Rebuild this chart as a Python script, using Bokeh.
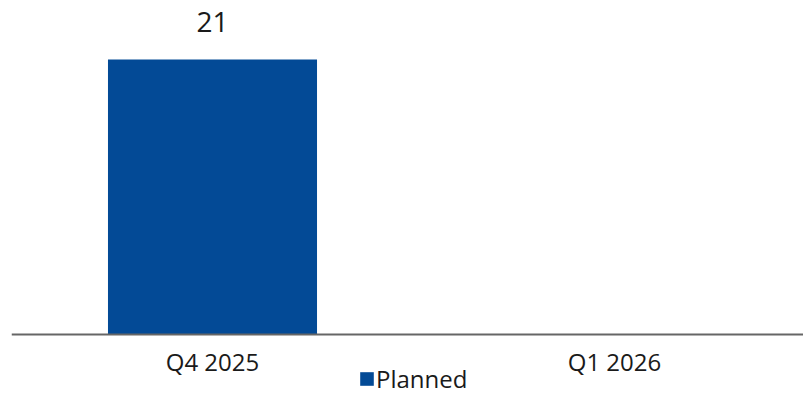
from bokeh.plotting import figure
from bokeh.models import ColumnDataSource, Range1d, FixedTicker, Legend, LegendItem, LinearAxis
from bokeh.core.properties import value
from bokeh.embed import file_html
from bokeh.resources import INLINE

categories = ["Q4 2025", "Q1 2026"]
planned = [21, None]
series_name = "Planned"

xs = [i + 0.5 for i in range(len(categories))]
vals = [v if v is not None else 0 for v in planned]
labels = [str(v) if v is not None else "" for v in planned]
src = ColumnDataSource(dict(x=xs, top=vals, label=labels))

FONT = "Open Sans"
BLUE = "#034a96"
PX_PER_UNIT = 275 / 21  # vertical scale

p = figure(frame_width=792, frame_height=417, output_backend="svg", toolbar_location=None,
           x_range=Range1d(0, 792 / 402),
           y_range=Range1d(-83 / PX_PER_UNIT, 334 / PX_PER_UNIT),
           min_border_left=11, min_border_right=0, min_border_top=0, min_border_bottom=0,
           outline_line_color=None, x_axis_location=None, y_axis_location=None)
p.grid.visible = False

r = p.vbar(x="x", top="top", width=0.52, source=src, color=BLUE, line_color=None)
p.text(x="x", y="top", text="label", source=src, text_align="center",
       text_baseline="alphabetic", y_offset=-38, text_font=value(FONT),
       text_font_size="28px", text_color="#1a1a1a")

ax = LinearAxis(fixed_location=0)
ax.ticker = FixedTicker(ticks=xs)
ax.major_label_overrides = {x: c for x, c in zip(xs, categories)}
ax.major_tick_line_color = None
ax.minor_tick_line_color = None
ax.major_tick_out = 0
ax.major_tick_in = 0
ax.axis_line_color = "#666666"
ax.axis_line_width = 2
ax.major_label_standoff = 10
ax.major_label_text_font = FONT
ax.major_label_text_font_size = "24px"
ax.major_label_text_color = "#1a1a1a"
p.add_layout(ax, "below")

legend = Legend(items=[LegendItem(label=series_name, renderers=[r])],
                location=(347, 22), orientation="horizontal",
                label_text_font=FONT, label_text_font_size="24px",
                label_text_color="#1a1a1a", glyph_width=17, glyph_height=17,
                label_standoff=1, padding=0, margin=0, border_line_color=None,
                background_fill_alpha=0, label_height=22)
p.add_layout(legend, "center")

open("out.html", "w").write(file_html(p, INLINE))
